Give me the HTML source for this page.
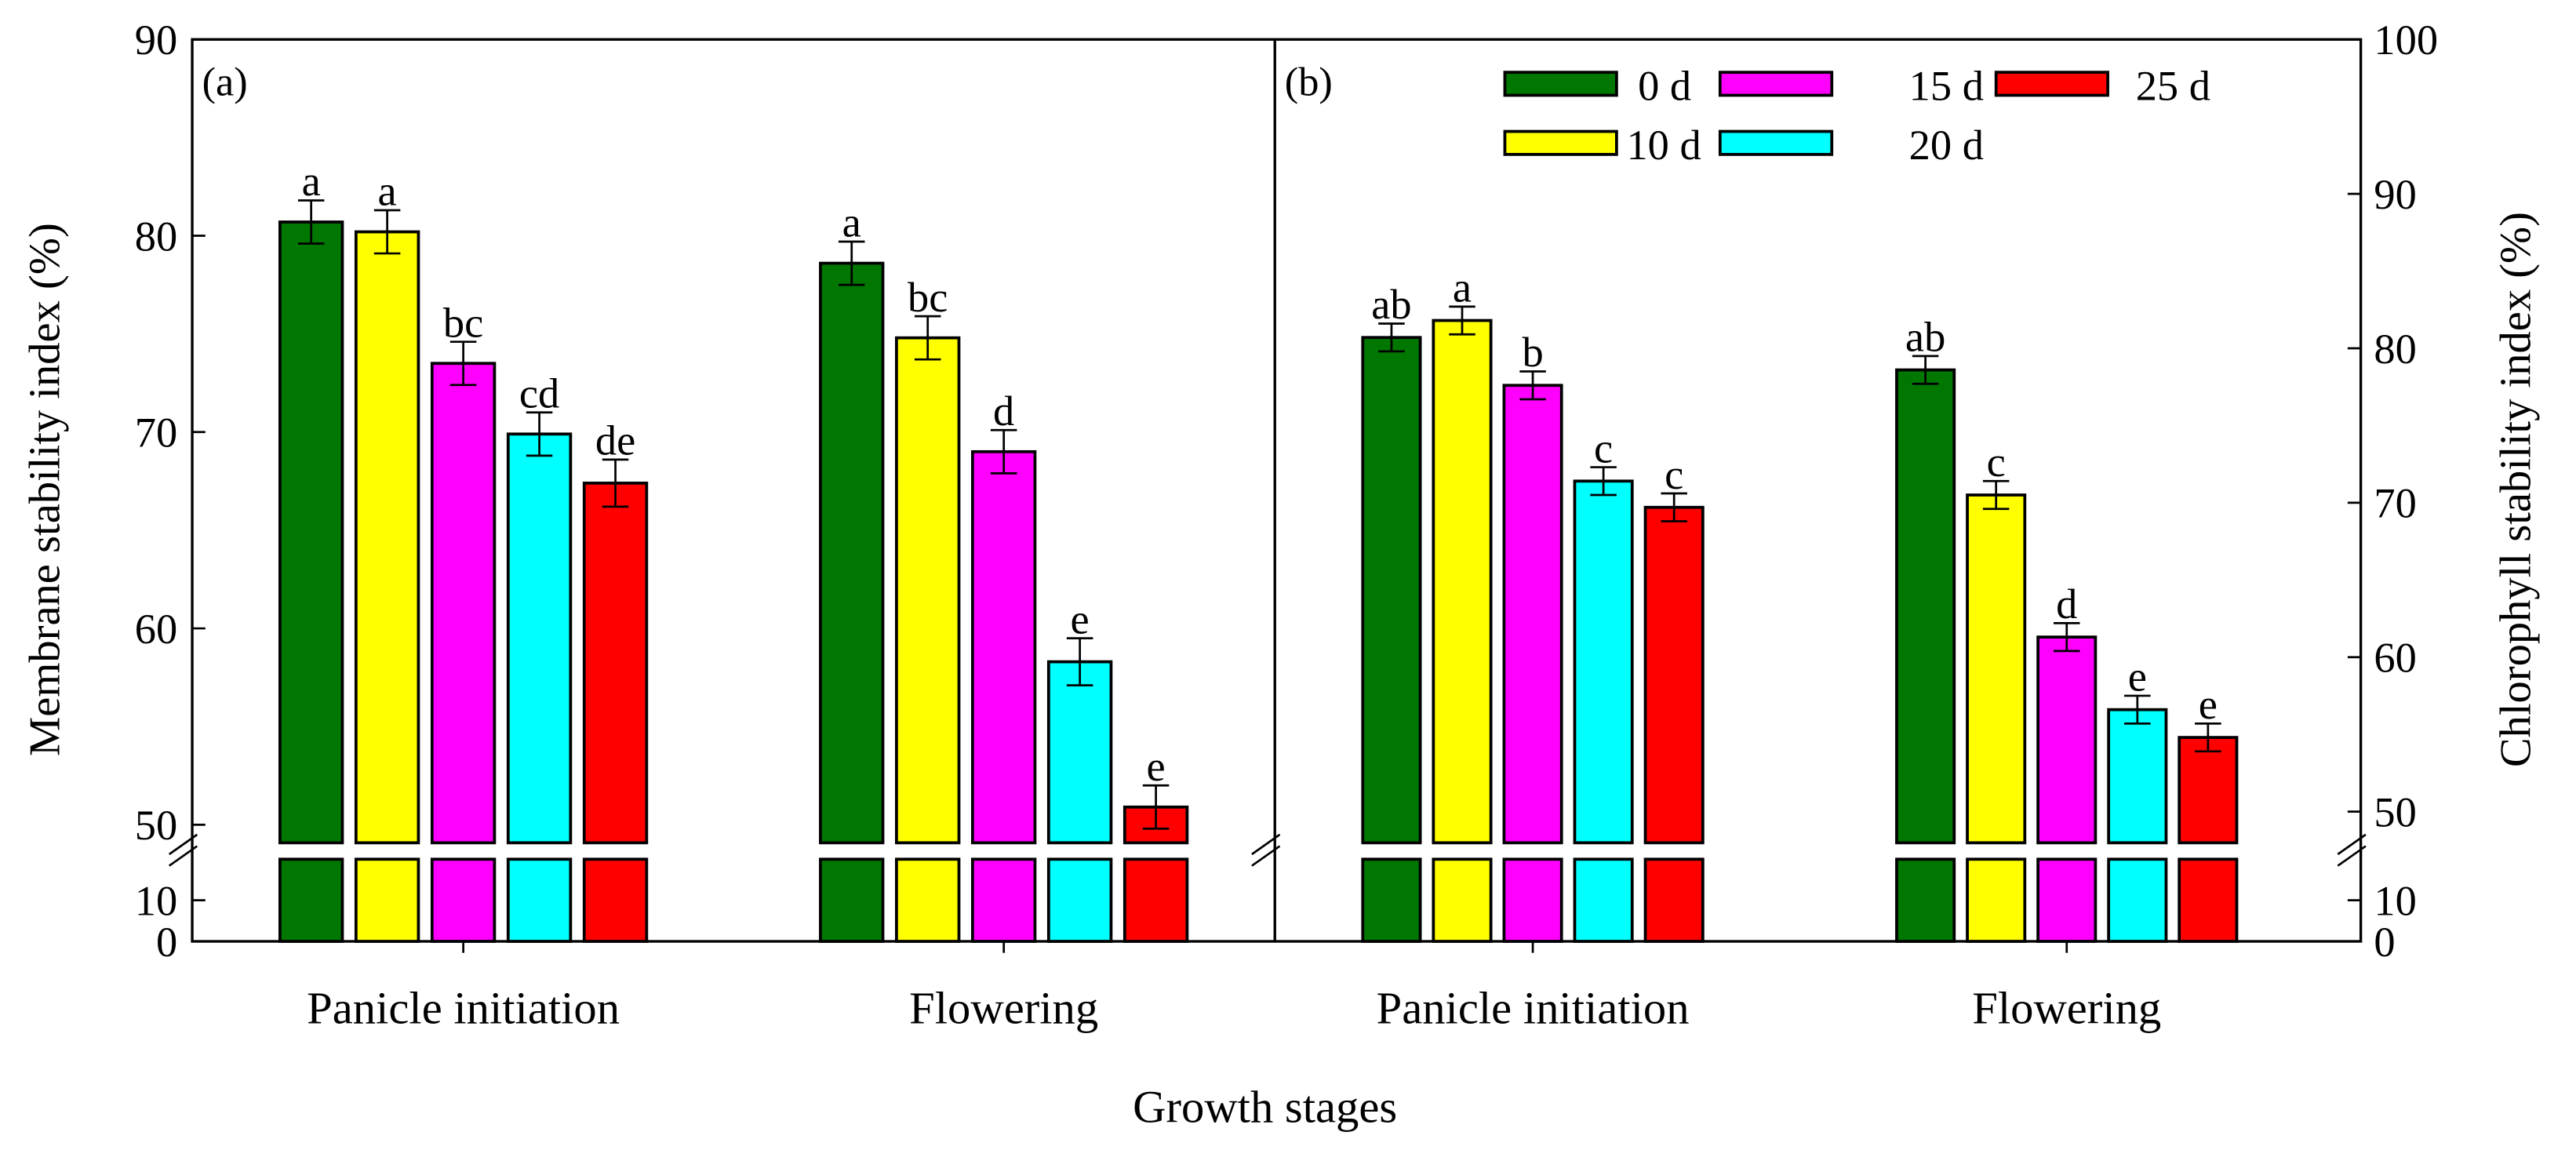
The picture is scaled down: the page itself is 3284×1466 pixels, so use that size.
<!DOCTYPE html>
<html><head><meta charset="utf-8"><style>
html,body{margin:0;padding:0;background:#fff;}
svg{display:block;}
text{font-family:"Liberation Serif",serif;fill:#000;}
</style></head><body>
<svg id="chart" width="3284" height="1466" viewBox="0 0 1568 700" preserveAspectRatio="none" xmlns="http://www.w3.org/2000/svg">
<g id="g"></g>
</svg>
<script>
const stages = ["Panicle initiation", "Flowering"];
const seriesNames = ["0 d", "10 d", "15 d", "20 d", "25 d"];
const colors = ["#007700", "#ffff00", "#ff00ff", "#00ffff", "#ff0000"];
const msiValues = [[80.7, 80.2, 73.5, 69.9, 67.4], [78.6, 74.8, 69.0, 58.3, 50.9]];
const msiErrors = [[1.1, 1.1, 1.1, 1.1, 1.2], [1.1, 1.1, 1.1, 1.2, 1.1]];
const msiLetters = [["a", "a", "bc", "cd", "de"], ["a", "bc", "d", "e", "e"]];
const csiValues = [[80.7, 81.8, 77.6, 71.4, 69.7], [78.6, 70.5, 61.3, 56.6, 54.8]];
const csiErrors = [[0.9, 0.9, 0.9, 0.9, 0.9], [0.9, 0.9, 0.9, 0.9, 0.9]];
const csiLetters = [["ab", "a", "b", "c", "c"], ["ab", "c", "d", "e", "e"]];
const msiTicks = [50, 60, 70, 80, 90];
const csiTicks = [50, 60, 70, 80, 90, 100];
const lowTicks = [0, 10];

const NS = "http://www.w3.org/2000/svg";
const g = document.getElementById("g");
function el(tag, attrs, parent) {
  const e = document.createElementNS(NS, tag);
  for (const k in attrs) e.setAttribute(k, attrs[k]);
  (parent || g).appendChild(e);
  return e;
}
function txt(s, x, y, size, anchor, parent) {
  const t = el("text", {x: x, y: y, "font-size": size, "text-anchor": anchor || "middle"}, parent);
  t.textContent = s;
  return t;
}
const TOP = 24, BOT = 573, L = 117, MID = 776, R = 1437;
const yMsi = v => 502 - (v - 50) * 11.95;
const yCsi = v => 494 - (v - 50) * 9.4;
const yLow = v => 573 - v * 2.5;

const frame = el("rect", {x: L, y: TOP, width: R - L, height: BOT - TOP, fill: "none", stroke: "#000", "stroke-width": 1.6});


const div = el("line", {x1: MID, y1: TOP, x2: MID, y2: BOT, stroke: "#000", "stroke-width": 1.6});



msiTicks.forEach(v => {
  const y = yMsi(v);
  if (v < 90) el("line", {x1: L, y1: y, x2: L + 8, y2: y, stroke: "#000", "stroke-width": 1.3});
  const t = txt(String(v), L - 9, y + 9, 26, "end");
  
  
});
lowTicks.forEach(v => {
  const y = yLow(v);
  if (v > 0) el("line", {x1: L, y1: y, x2: L + 8, y2: y, stroke: "#000", "stroke-width": 1.3});
  const t = txt(String(v), L - 9, y + 9, 26, "end");
  
  
});
csiTicks.forEach(v => {
  const y = yCsi(v);
  if (v < 100) el("line", {x1: R - 8, y1: y, x2: R, y2: y, stroke: "#000", "stroke-width": 1.3});
  const t = txt(String(v), R + 8, y + 9, 26, "start");
  
  
});
lowTicks.forEach(v => {
  const y = yLow(v);
  if (v > 0) el("line", {x1: R - 8, y1: y, x2: R, y2: y, stroke: "#000", "stroke-width": 1.3});
  const t = txt(String(v), R + 8, y + 9, 26, "start");
  
  
});
[L, MID, R].forEach(x => {
  el("line", {x1: x - 14, y1: 520, x2: x + 3, y2: 508, stroke: "#000", "stroke-width": 1.3});
  el("line", {x1: x - 14, y1: 527, x2: x + 3, y2: 515, stroke: "#000", "stroke-width": 1.3});
});

function drawPanel(values, errors, letters, yf, centers, bw, step, prefix) {
  values.forEach((grp, gi) => {
    const c = centers[gi];
    el("line", {x1: c, y1: BOT, x2: c, y2: BOT + 7, stroke: "#000", "stroke-width": 1.3});
    const lab = txt(stages[gi], c, BOT + 50, 28);
    
    
    grp.forEach((v, si) => {
      const x = c + (si - 2) * step - bw / 2;
      const yTop = yf(v);
      const b = el("rect", {x: x, y: yTop, width: bw, height: 513 - yTop, fill: colors[si], stroke: "#000", "stroke-width": 1.8});
      
      
      const b2 = el("rect", {x: x, y: 523, width: bw, height: 50, fill: colors[si], stroke: "#000", "stroke-width": 1.8});
      
      
      const e = errors[gi][si];
      const y1 = yf(v + e), y2 = yf(v - e), cx = x + bw / 2;
      const eg = el("g", {stroke: "#000", "stroke-width": 1.3});
      
      
      el("line", {x1: cx, y1: y1, x2: cx, y2: y2}, eg);
      el("line", {x1: cx - 8, y1: y1, x2: cx + 8, y2: y1}, eg);
      el("line", {x1: cx - 8, y1: y2, x2: cx + 8, y2: y2}, eg);
      const t = txt(letters[gi][si], cx, y1 - 3, 26);
      
      
    });
  });
}
drawPanel(msiValues, msiErrors, msiLetters, yMsi, [282, 611], 38, 46.3, "msi");
drawPanel(csiValues, csiErrors, csiLetters, yCsi, [933, 1258], 35, 43, "csi");

const pa = txt("(a)", 123, 58, 25, "start");


const pb = txt("(b)", 782, 58, 25, "start");



const yl = el("text", {x: 0, y: 0, "font-size": 27, "text-anchor": "middle", transform: "translate(36,298) rotate(-90)"});
yl.textContent = "Membrane stability index (%)";


const yr = el("text", {x: 0, y: 0, "font-size": 27, "text-anchor": "middle", transform: "translate(1540,298) rotate(-90)"});
yr.textContent = "Chlorophyll stability index (%)";


const xt = txt("Growth stages", 770, 683, 28);



const legPos = [[916, 44, 997], [916, 80, 990], [1047, 44, 1162], [1047, 80, 1162], [1215, 44, 1300]];
seriesNames.forEach((n, i) => {
  const p = legPos[i];
  const lg = el("g", {});
  
  
  el("rect", {x: p[0], y: p[1], width: 68, height: 14, fill: colors[i], stroke: "#000", "stroke-width": 1.8}, lg);
  txt(n, p[2], p[1] + 17, 26, "start", lg);
});
</script>
</body></html>
